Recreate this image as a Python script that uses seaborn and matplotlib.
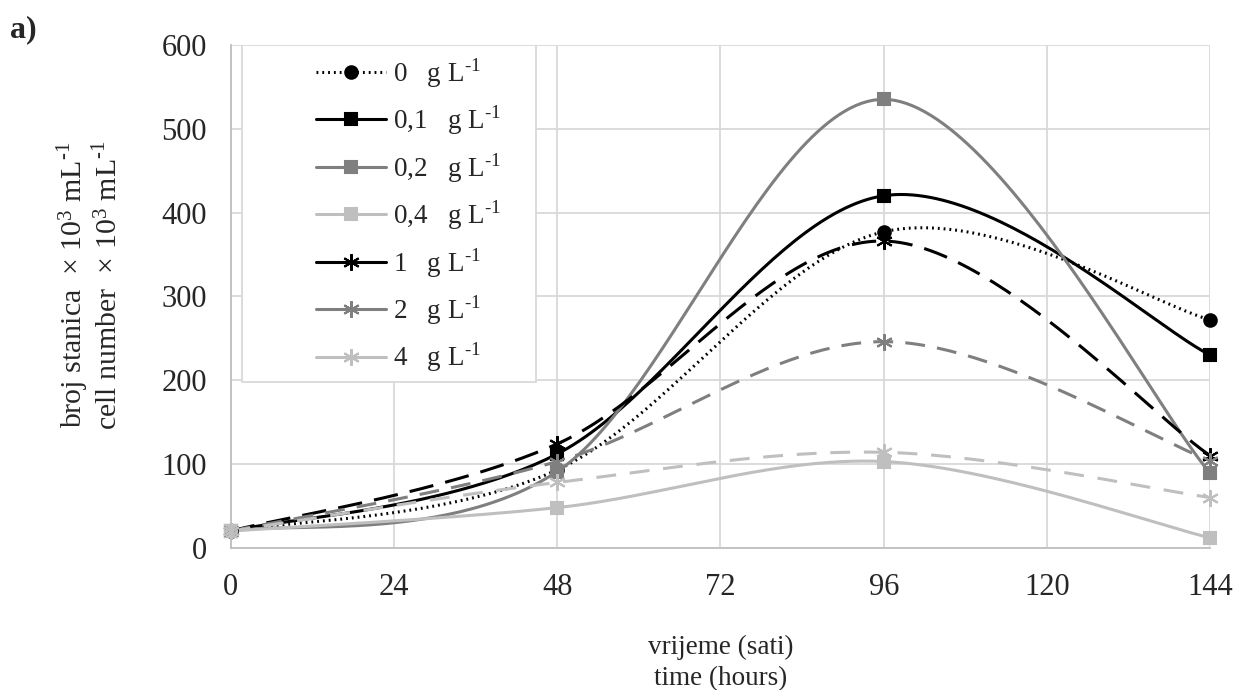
import numpy as np
import pandas as pd
import matplotlib
matplotlib.use("Agg")
import matplotlib.pyplot as plt
from matplotlib.lines import Line2D
from matplotlib.patches import Rectangle
import seaborn as sns

# sampling times (hours)
hours = [0, 48, 96, 144]

# cell number x 10^3 / mL per concentration
c_0 = [20, 93, 377, 272]
c_01 = [20, 112, 420, 230]
c_02 = [20, 91, 535, 89]
c_04 = [20, 48, 103, 12]
c_1 = [20, 124, 366, 110]
c_2 = [20, 103, 246, 104]
c_4 = [20, 78, 114, 60]

labels = ["0", "0,1", "0,2", "0,4", "1", "2", "4"]
series = [c_0, c_01, c_02, c_04, c_1, c_2, c_4]

BLACK, GRAY, LIGHT = "#000000", "#7f7f7f", "#bfbfbf"
ASTER = (6, 2, 0)
styles = [
    dict(color=BLACK, marker="o", ls=(0, (0.6, 1.3)), ms=9),
    dict(color=BLACK, marker="s", ls="-", ms=8.5),
    dict(color=GRAY, marker="s", ls="-", ms=8.5),
    dict(color=LIGHT, marker="s", ls="-", ms=8.5),
    dict(color=BLACK, marker=ASTER, ls=(0, (8, 4)), ms=12),
    dict(color=GRAY, marker=ASTER, ls=(0, (6.5, 4)), ms=12),
    dict(color=LIGHT, marker=ASTER, ls=(0, (6.5, 4.5)), ms=12),
]


def smooth(x, y, n=60):
    # Excel-like smoothed line: cubic Bezier through points (Catmull-Rom style)
    x = np.asarray(x, float)
    y = np.asarray(y, float)
    px = np.concatenate([[x[0]], x, [x[-1]]])
    py = np.concatenate([[y[0]], y, [y[-1]]])
    t = np.linspace(0, 1, n)[:, None]
    xs, ys = [], []
    for i in range(1, len(px) - 2):
        p0 = np.array([px[i], py[i]])
        p3 = np.array([px[i + 1], py[i + 1]])
        c1 = p0 + (np.array([px[i + 1], py[i + 1]]) - np.array([px[i - 1], py[i - 1]])) / 6
        c2 = p3 - (np.array([px[i + 2], py[i + 2]]) - np.array([px[i], py[i]])) / 6
        b = ((1 - t) ** 3) * p0 + 3 * ((1 - t) ** 2) * t * c1 + 3 * (1 - t) * t ** 2 * c2 + t ** 3 * p3
        xs.append(b[:, 0])
        ys.append(b[:, 1])
    return np.concatenate(xs), np.concatenate(ys)


sns.set_style("white")
plt.rcParams["font.family"] = ["Liberation Serif", "DejaVu Serif"]
plt.rcParams["mathtext.fontset"] = "custom"
plt.rcParams["mathtext.rm"] = "Liberation Serif"

fig = plt.figure(figsize=(12.4, 6.9), dpi=100)
ax = fig.add_axes([0.186, 0.206, 0.79, 0.729])

for lab, vals, st in zip(labels, series, styles):
    sx, sy = smooth(hours, vals)
    df = pd.DataFrame({"x": sx, "y": sy})
    sns.lineplot(data=df, x="x", y="y", ax=ax, sort=False, color=st["color"],
                 linestyle=st["ls"], linewidth=2.2, zorder=3)
    ax.plot(hours, vals, linestyle="none", marker=st["marker"], color=st["color"],
            markersize=st["ms"], markeredgewidth=1.5, zorder=4, clip_on=False)

ax.set_xlim(0, 144)
ax.set_ylim(0, 600)
ax.set_xticks([0, 24, 48, 72, 96, 120, 144])
ax.set_yticks(range(0, 601, 100))
ax.grid(True, color="#d9d9d9", linewidth=1.3)
ax.set_axisbelow(True)
for s in ["top", "right"]:
    ax.spines[s].set_visible(False)
for s in ["left", "bottom"]:
    ax.spines[s].set_color("#bfbfbf")
    ax.spines[s].set_linewidth(1.3)
ax.tick_params(axis="both", length=0, labelsize=22)
ax.tick_params(axis="y", pad=17)
ax.tick_params(axis="x", pad=18)

ax.set_xlabel("vrijeme (sati)\ntime (hours)", fontsize=19.5, labelpad=24, linespacing=1.3)
ax.set_ylabel("broj stanica  × 10$\\mathregular{^3}$ mL$^{\\text{-1}}$\n"
              "cell number  × 10$\\mathregular{^3}$ mL$^{\\text{-1}}$",
              fontsize=21.5, linespacing=1.05)
ax.yaxis.set_label_coords(-0.110, 0.523)

handles = []
for st in styles:
    ls = st["ls"] if st["marker"] == "o" else "-"
    handles.append(Line2D([], [], color=st["color"], marker=st["marker"], linestyle=ls,
                          linewidth=2.2, markersize=st["ms"], markeredgewidth=1.5))
leg_labels = [f"{l}   g L$^{{\\text{{-1}}}}$" for l in labels]
leg = ax.legend(handles, leg_labels, loc="upper left", bbox_to_anchor=(0.0868, 0.978),
                fontsize=19.5, frameon=False, borderpad=0, labelspacing=0.5,
                handlelength=2.6, handletextpad=0.25, borderaxespad=0)
ax.add_patch(Rectangle((0.012, 0.33), 0.3, 0.67, transform=ax.transAxes,
                       facecolor="white", edgecolor="#d9d9d9", linewidth=1.3, zorder=5))
leg.set_zorder(6)

fig.text(0.008, 0.978, "a)", fontsize=23, fontweight="bold", va="top")

fig.savefig("out.png", dpi=100)
